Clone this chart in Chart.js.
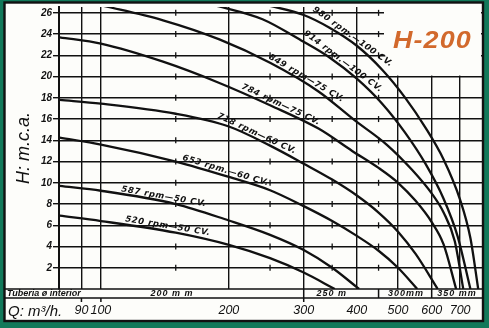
<!DOCTYPE html>
<html>
<head>
<meta charset="utf-8">
<script src="https://cdn.jsdelivr.net/npm/chart.js@4.4.0/dist/chart.umd.min.js"></script>
<style>
  html, body { margin: 0; padding: 0; background: #12795a; }
  #wrap { width: 489px; height: 328px; }
</style>
</head>
<body>
<div id="wrap"><canvas id="myChart" width="489" height="328"></canvas></div>
<script>
// pump curves (Q in m3/h, H in m)

const q520 = [80, 100, 150, 200, 250, 300, 355]
const h520 = [6.9, 6.4, 5.3, 4.15, 2.9, 1.55, 0]

const q587 = [80, 100, 150, 200, 250, 300, 350, 405]
const h587 = [9.7, 9.25, 8.0, 6.45, 5.1, 3.67, 2.0, 0]

const q653 = [80, 100, 150, 200, 250, 300, 350, 400, 450, 500, 555]
const h653 = [14.25, 13.6, 12.0, 10.55, 9.3, 7.8, 6.4, 5.0, 3.6, 2.0, 0]

const q718 = [80, 100, 150, 200, 250, 300, 350, 400, 450, 500, 550, 620]
const h718 = [17.8, 17.45, 16.5, 15.3, 13.5, 11.8, 10.3, 8.8, 7.2, 5.4, 3.3, 0]

const q784 = [80, 100, 140, 190, 250, 325, 390, 450, 500, 550, 600, 640, 685]
const h784 = [23.7, 23.1, 21.4, 19.4, 17.3, 15.1, 13.0, 11.4, 10.0, 8.3, 6.3, 4.2, 0]

const q849 = [98, 140, 190, 250, 325, 395, 470, 540, 600, 640, 680, 712]
const h849 = [26.8, 25.3, 23.5, 21.3, 18.6, 15.9, 13.6, 11.2, 9.0, 7.2, 4.5, 0]

const q914 = [182, 240, 296, 345, 400, 460, 520, 580, 640, 690, 740]
const h914 = [26.8, 25.4, 23.4, 21.8, 19.8, 17.4, 14.7, 11.8, 8.5, 5.0, 0]

const q980 = [242, 300, 345, 400, 460, 520, 580, 640, 700, 740, 772]
const h980 = [26.8, 25.8, 24.6, 22.9, 20.6, 18.0, 15.2, 12.2, 8.4, 4.8, 0]

const curveNames = ['520 rpm—50 CV.', '587 rpm—50 CV.', '653 rpm.—60 CV.', '718 rpm—60 CV.',
    '784 rpm—75 CV.', '849 rpm—75 CV.', '914 rpm.—100 CV.', '980 rpm.—100 CV.']
const labelAt = [143, 140, 195, 230, 262, 300, 365, 385]

const yTicks = [2, 4, 6, 8, 10, 12, 14, 16, 18, 20, 22, 24, 26]
const xTicks = [90, 100, 150, 200, 250, 300, 350, 400, 450, 500, 600, 700]
const xLabels = [90, 100, 200, 300, 400, 500, 600, 700]
const halfTicks = [150, 250, 350, 450]
const pipeSizes = ['200 m m', '250 m', '300mm', '350 mm']
const pipeAt = [147, 349, 522, 688]

const curves = [
    [q520, h520], [q587, h587], [q653, h653], [q718, h718],
    [q784, h784], [q849, h849], [q914, h914], [q980, h980]
]

const green = '#12795a'
const paper = '#fdfdfa'
const orange = '#d2692c'

// head on a curve at flow q, straight between read points (log Q)
function headAt(qs, hs, q) {
    for (let i = 0; i < qs.length - 1; i++) {
        if (q >= qs[i] && q <= qs[i + 1]) {
            let t = (Math.log(q) - Math.log(qs[i])) / (Math.log(qs[i + 1]) - Math.log(qs[i]))
            return hs[i] + t * (hs[i + 1] - hs[i])
        }
    }
    return hs[hs.length - 1]
}

const framePlugin = {
    id: 'frame',
    beforeDraw(chart) {
        const c = chart.ctx
        c.save()
        c.fillStyle = green
        c.fillRect(0, 0, chart.width, chart.height)
        c.fillStyle = paper
        c.fillRect(4.5, 2.5, 478.5, 318.5)
        c.strokeStyle = '#111'
        c.lineWidth = 2.4
        c.strokeRect(4.5, 2.5, 478.5, 318.5)
        c.restore()
    },
    beforeDatasetsDraw(chart) {
        const c = chart.ctx
        const x = chart.scales.x, y = chart.scales.y
        const a = chart.chartArea
        c.save()
        // blank corner for the model name
        c.fillStyle = paper
        c.fillRect(384, a.top, a.right - 384 - 1, y.getPixelForValue(20) - a.top - 1)
        // dashed half lines: a short stroke at each head line
        c.strokeStyle = '#111'
        c.lineWidth = 1.3
        halfTicks.forEach(v => {
            let px = x.getPixelForValue(v)
            yTicks.forEach(h => {
                let py = y.getPixelForValue(h)
                if (px > 384 && h > 20) return
                c.beginPath()
                c.moveTo(px, py - 3)
                c.lineTo(px, py + 3)
                c.stroke()
            })
        })
        c.restore()
    },
    afterDraw(chart) {
        const c = chart.ctx
        const x = chart.scales.x, y = chart.scales.y
        const a = chart.chartArea
        c.save()
        c.fillStyle = '#111'

        // rpm labels along each curve
        c.font = 'bold italic 8.5px "DejaVu Sans"'
        c.letterSpacing = '0.6px'
        c.textAlign = 'center'
        c.textBaseline = 'alphabetic'
        curves.forEach((cv, i) => {
            let q = labelAt[i]
            let x1 = x.getPixelForValue(q * 0.93), y1 = y.getPixelForValue(headAt(cv[0], cv[1], q * 0.93))
            let x2 = x.getPixelForValue(q * 1.07), y2 = y.getPixelForValue(headAt(cv[0], cv[1], q * 1.07))
            let ang = Math.atan2(y2 - y1, x2 - x1)
            let px = x.getPixelForValue(q), py = y.getPixelForValue(headAt(cv[0], cv[1], q))
            c.save()
            c.translate(px, py)
            c.rotate(ang)
            c.fillText(curveNames[i], 0, -3)
            c.restore()
        })

        // pipe size strip under the plot
        let top = a.bottom, bot = 298
        c.strokeStyle = '#111'
        c.lineWidth = 1.5
        c.beginPath()
        c.moveTo(5, top); c.lineTo(483, top)
        c.moveTo(5, bot); c.lineTo(483, bot)
        ;[300, 450, 600].forEach(v => {
            let px = x.getPixelForValue(v)
            c.moveTo(px, top); c.lineTo(px, bot)
        })
        ;[90, 100, 300].forEach(v => {
            let px = x.getPixelForValue(v)
            c.moveTo(px, bot); c.lineTo(px, bot + 4)
        })
        c.stroke()

        c.font = 'bold italic 9px "Liberation Sans"'
        c.letterSpacing = '0px'
        c.textAlign = 'left'
        c.textBaseline = 'middle'
        c.fillText('Tuberia ø interior', 7, 294)
        c.textAlign = 'center'
        c.letterSpacing = '1px'
        pipeSizes.forEach((t, i) => c.fillText(t, x.getPixelForValue(pipeAt[i]), 294))

        // axis name for flow
        c.letterSpacing = '0px'
        c.textAlign = 'left'
        c.textBaseline = 'alphabetic'
        c.font = 'italic 15px "Liberation Sans"'
        c.fillText('Q:', 8, 316)
        c.fillText('m³/h.', 28, 316)

        // model name, a wide face in the original
        c.fillStyle = orange
        c.font = 'bold italic 24px "Liberation Sans"'
        c.letterSpacing = '1px'
        c.translate(393, 48)
        c.scale(1.12, 1)
        c.fillText('H-200', 0, 0)
        c.restore()
    }
}

const ctx = document.getElementById('myChart').getContext('2d')
const myChart = new Chart(ctx, {
    type: 'line',
    data: {
        datasets: curves.map((cv, i) => ({
            label: curveNames[i],
            data: cv[0].map((q, j) => ({ x: q, y: cv[1][j] })),
            borderColor: '#111',
            borderWidth: 2.3,
            pointRadius: 0,
            fill: false,
            cubicInterpolationMode: 'monotone'
        }))
    },
    options: {
        responsive: false,
        animation: false,
        layout: { padding: { top: 3, right: 7, left: 0, bottom: 0 } },
        plugins: {
            legend: { display: false },
            tooltip: { enabled: false }
        },
        scales: {
            x: {
                type: 'logarithmic',
                min: 79.7,
                max: 788,
                afterBuildTicks: (scale) => { scale.ticks = xTicks.map(v => ({ value: v })) },
                afterFit: (scale) => { scale.height = 39 },
                grid: {
                    color: (c) => xLabels.includes(c.tick.value) ? '#111' : 'rgba(0,0,0,0)',
                    lineWidth: 1.4,
                    drawTicks: false
                },
                border: { display: false },
                ticks: {
                    autoSkip: false,
                    maxRotation: 0,
                    padding: 14,
                    color: '#111',
                    font: { family: '"Liberation Sans"', size: 12.5, style: 'italic' },
                    callback: (v) => xLabels.includes(v) ? String(v) : ''
                }
            },
            y: {
                min: 0,
                max: 26.55,
                afterBuildTicks: (scale) => { scale.ticks = yTicks.map(v => ({ value: v })) },
                afterFit: (scale) => { scale.width = 59 },
                grid: {
                    color: '#111',
                    lineWidth: 1.4,
                    tickLength: 6,
                    tickColor: '#111'
                },
                border: { display: true, color: '#111', width: 2 },
                title: {
                    display: true,
                    text: 'H: m.c.a.',
                    color: '#111',
                    font: { family: '"Liberation Sans"', size: 18, style: 'italic' },
                    padding: { top: 13, bottom: 0 }
                },
                ticks: {
                    padding: 1,
                    color: '#111',
                    font: { family: '"Liberation Sans"', size: 10, style: 'italic', weight: 'bold' }
                }
            }
        }
    },
    plugins: [framePlugin]
})
</script>
</body>
</html>
